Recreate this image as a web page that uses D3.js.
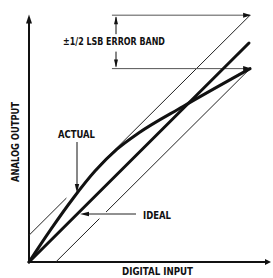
<!DOCTYPE html>
<html><head><meta charset="utf-8">
<script src="https://cdn.jsdelivr.net/npm/d3@7/dist/d3.min.js"></script>
<style>
html,body{margin:0;padding:0;background:#fff;}
svg{display:block;}
text{font-family:"Liberation Sans Narrow","DejaVu Sans Condensed","Liberation Sans",sans-serif;font-weight:bold;fill:#111;}
</style></head>
<body>
<svg id="c" width="273" height="278"></svg>
<script>
// ---- data (normalised digital input / analog output) ----
const idealX = [0, 1];
const idealY = [0, 1];
const actualX = [0, 0.1, 0.2, 0.3, 0.4, 0.5, 0.7, 1.005];
const actualY = [0, 0.15, 0.29, 0.415, 0.515, 0.59, 0.71, 0.883];
const halfLSB = 0.122;
const upperBandSegments = [[0, 0.17], [0.32, 1.005]];
const lowerBandSegments = [[0.122, 0.32], [0.35, 1.005]];
const bandLabel = "±1/2 LSB ERROR BAND";
const xAxisLabel = "DIGITAL INPUT";
const yAxisLabel = "ANALOG OUTPUT";
const actualLabel = "ACTUAL";
const idealLabel = "IDEAL";

const svg = d3.select("#c");
const x = d3.scaleLinear().domain([0, 1]).range([29, 249]);
const y = d3.scaleLinear().domain([0, 1]).range([262, 43]);

function arrowHead(tipX, tipY, angle, len, half) {
  const bx = tipX - Math.cos(angle) * len, by = tipY - Math.sin(angle) * len;
  const px = -Math.sin(angle) * half, py = Math.cos(angle) * half;
  svg.append("path")
    .attr("d", `M${tipX},${tipY}L${bx + px},${by + py}L${bx - px},${by - py}Z`)
    .attr("fill", "#111");
}

// axes
const xEnd = 1.1, yEnd = 1.13;
svg.append("line").attr("x1", x(0)).attr("y1", y(0)).attr("x2", x(0)).attr("y2", y(yEnd) + 4)
  .attr("stroke", "#111").attr("stroke-width", 2);
arrowHead(x(0), y(yEnd), -Math.PI / 2, 9, 3);
svg.append("line").attr("x1", x(0) - 1).attr("y1", y(0)).attr("x2", x(xEnd) - 3).attr("y2", y(0))
  .attr("stroke", "#111").attr("stroke-width", 2);
arrowHead(x(xEnd), y(0), 0, 6, 3);

// error band lines
const thin = (x1, y1, x2, y2, c) => svg.append("line")
  .attr("x1", x1).attr("y1", y1).attr("x2", x2).attr("y2", y2)
  .attr("stroke", c || "#222").attr("stroke-width", 1);

upperBandSegments.forEach(([a, b]) => thin(x(a), y(a + halfLSB), x(b), y(b + halfLSB)));
lowerBandSegments.forEach(([a, b]) => thin(x(a), y(a - halfLSB), x(b), y(b - halfLSB)));

const endX = 1.005;
const hStart = 0.377;
thin(x(hStart), y(endX + halfLSB), x(endX), y(endX + halfLSB), "#555");
thin(x(hStart), y(endX - halfLSB), x(endX), y(endX - halfLSB), "#555");
arrowHead(x(endX) + 1, y(endX + halfLSB), 0, 8, 2.5);
arrowHead(x(endX) + 1, y(endX - halfLSB), 0, 8, 2.5);

// dimension arrows
const dimX = 116;
const topY = y(endX + halfLSB), botY = y(endX - halfLSB);
thin(dimX, topY + 2, dimX, topY + 19, "#111");
arrowHead(dimX, topY + 1, -Math.PI / 2, 8, 2);
thin(dimX, botY - 17, dimX, botY - 2, "#111");
arrowHead(dimX, botY - 1, Math.PI / 2, 8, 2);

// ideal line
const line = d3.line().x(d => x(d[0])).y(d => y(d[1]));
svg.append("path").datum(d3.zip(idealX, idealY))
  .attr("d", line).attr("fill", "none").attr("stroke", "#111").attr("stroke-width", 3)
  .attr("stroke-linecap", "round");

// actual curve
const curveLine = d3.line().x(d => x(d[0])).y(d => y(d[1])).curve(d3.curveMonotoneX);
svg.append("path").datum(d3.zip(actualX, actualY))
  .attr("d", curveLine).attr("fill", "none").attr("stroke", "#111").attr("stroke-width", 3)
  .attr("stroke-linecap", "round");

// labels
svg.append("text").attr("x", 63).attr("y", 45).attr("font-size", 11)
  .attr("textLength", 102).attr("lengthAdjust", "spacingAndGlyphs").text(bandLabel);

svg.append("text").attr("x", 58).attr("y", 138).attr("font-size", 10.5)
  .attr("textLength", 37).attr("lengthAdjust", "spacingAndGlyphs").text(actualLabel);
thin(77, 142, 77, 186, "#111");
arrowHead(77, 193, Math.PI / 2, 9, 2.2);

svg.append("text").attr("x", 143).attr("y", 219).attr("font-size", 11)
  .attr("textLength", 28).attr("lengthAdjust", "spacingAndGlyphs").text(idealLabel);
thin(86, 214, 136, 214, "#222");
arrowHead(80, 214, Math.PI, 9, 2.2);

svg.append("text").attr("x", 122).attr("y", 275).attr("font-size", 10.5)
  .attr("textLength", 71).attr("lengthAdjust", "spacingAndGlyphs").text(xAxisLabel);

svg.append("text").attr("transform", "translate(19,142) rotate(-90)")
  .attr("text-anchor", "middle").attr("font-size", 11)
  .attr("textLength", 80).attr("lengthAdjust", "spacingAndGlyphs").text(yAxisLabel);
</script>
</body></html>
